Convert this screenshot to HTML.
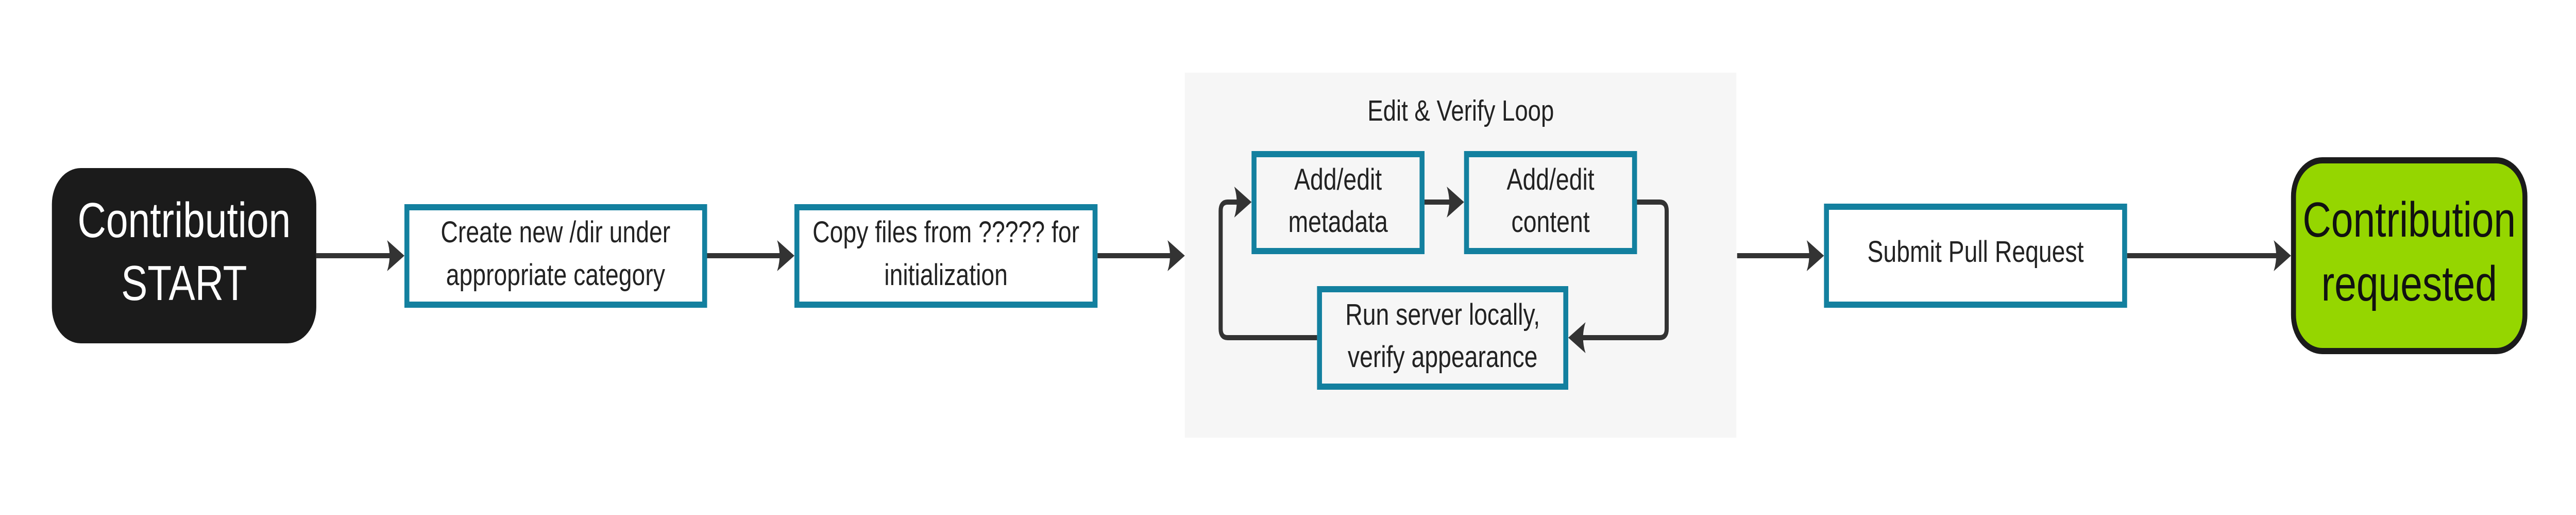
<!DOCTYPE html>
<html><head><meta charset="utf-8"><style>
html,body{margin:0;padding:0;background:#fff;width:100%;height:100%;overflow:hidden;}
svg{display:block;width:100vw;height:100vh;}
text{font-family:"Liberation Sans",sans-serif;}
</style></head><body>
<svg viewBox="0 0 6255 999" preserveAspectRatio="none" xmlns="http://www.w3.org/2000/svg">
<defs>
<path id="ah" d="M0,0 L-42,-30 Q-30,0 -42,30 Z" fill="#333"/>
</defs>
<rect width="6255" height="999" fill="#fff"/>
<rect x="2877" y="141" width="1339" height="708" fill="#f6f6f6"/>
<text x="3547" y="234" font-size="57" text-anchor="middle" fill="#222">Edit &amp; Verify Loop</text>

<rect x="126" y="326" width="642" height="340" rx="70" ry="70" fill="#1b1b1b"/>
<text x="447" y="460" font-size="96" text-anchor="middle" fill="#fff">Contribution</text>
<text x="447" y="582" font-size="96" text-anchor="middle" fill="#fff">START</text>

<g fill="none" stroke="#13809f" stroke-width="12">
<rect x="988" y="402" width="723" height="189" fill="#fff"/>
<rect x="1935" y="402" width="724" height="189" fill="#fff"/>
<rect x="3045" y="299" width="408" height="188" fill="#f6f6f6"/>
<rect x="3561" y="299" width="408" height="188" fill="#f6f6f6"/>
<rect x="3204" y="561" width="598" height="189" fill="#f6f6f6"/>
<rect x="4435" y="401" width="724" height="190" fill="#fff"/>
</g>
<g font-size="58" text-anchor="middle" fill="#222">
<text x="1349" y="470">Create new /dir under</text>
<text x="1349" y="553">appropriate category</text>
<text x="2297" y="470">Copy files from ????? for</text>
<text x="2297" y="553">initialization</text>
<text x="3249" y="368">Add/edit</text>
<text x="3249" y="450">metadata</text>
<text x="3765" y="368">Add/edit</text>
<text x="3765" y="450">content</text>
<text x="3503" y="630">Run server locally,</text>
<text x="3503" y="712">verify appearance</text>
<text x="4797" y="508">Submit Pull Request</text>
</g>

<rect x="5569" y="311" width="562" height="370" rx="70" ry="70" fill="#95d600" stroke="#1b1b1b" stroke-width="12"/>
<text x="5850" y="459" font-size="96" text-anchor="middle" fill="#111">Contribution</text>
<text x="5850" y="583" font-size="96" text-anchor="middle" fill="#111">requested</text>

<g stroke="#333" stroke-width="10" fill="none">
<line x1="768" y1="496" x2="960" y2="496"/>
<line x1="1717" y1="496" x2="1910" y2="496"/>
<line x1="2665" y1="496" x2="2855" y2="496"/>
<line x1="4218" y1="496" x2="4405" y2="496"/>
<line x1="5165" y1="496" x2="5540" y2="496"/>
<line x1="3459" y1="392" x2="3530" y2="392"/>
<path d="M3975,392 H4030 Q4047,392 4047,409 V638 Q4047,655 4030,655 H3835"/>
<path d="M3198,655 H2981 Q2964,655 2964,638 V409 Q2964,392 2981,392 H3015"/>
</g>
<use href="#ah" x="982" y="496"/>
<use href="#ah" x="1929" y="496"/>
<use href="#ah" x="2877" y="496"/>
<use href="#ah" x="4429" y="496"/>
<use href="#ah" x="5563" y="496"/>
<use href="#ah" x="3555" y="392"/>
<use href="#ah" x="3039" y="392"/>
<use href="#ah" transform="translate(3808,655) rotate(180)"/>
</svg>
</body></html>
